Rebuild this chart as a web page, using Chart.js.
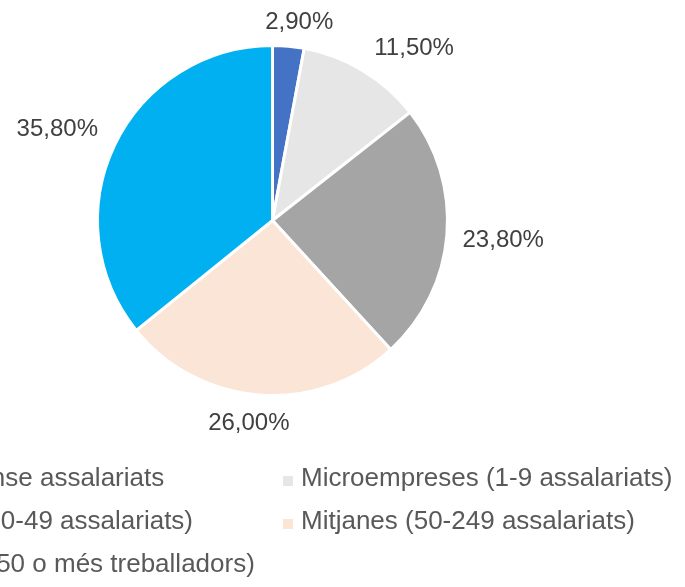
<!DOCTYPE html>
<html lang="ca">
<head>
<meta charset="utf-8">
<title>Empreses per dimensió</title>
<script src="https://cdn.jsdelivr.net/npm/chart.js@4.4.0/dist/chart.umd.min.js"></script>
<style>
    html, body { margin: 0; padding: 0; background: #fff; overflow: hidden; }
    #wrap { position: relative; width: 685px; height: 587px; }
    #pie { position: absolute; left: 0; top: 0; }
    #legend { position: absolute; left: 0; top: 0; width: 685px; height: 587px; pointer-events: none; }
    .legend-item {
        position: absolute;
        white-space: nowrap;
        font: 26px "Liberation Sans", Arial, sans-serif;
        line-height: 30px;
        color: #595959;
    }
    .legend-box {
        position: absolute;
        left: 0;
        top: 14px;
        width: 10px;
        height: 10px;
    }
    .legend-text { position: absolute; left: 18px; top: 0; }
</style>
</head>
<body>
<div id="wrap">
    <canvas id="pie" width="685" height="587"></canvas>
    <div id="legend"></div>
</div>
<script>
// dades
const categories = [
    'Sense assalariats',
    'Microempreses (1-9 assalariats)',
    'Petites (10-49 assalariats)',
    'Mitjanes (50-249 assalariats)',
    'Grans (250 o més treballadors)'
];
const shares = [2.9, 11.5, 23.8, 26.0, 35.8];
const sliceColors = ['#4472C4', '#E7E6E6', '#A5A5A5', '#FBE5D6', '#00B0F0'];

// posició de cada element de llegenda (esquerra del quadre, centre de la línia)
const legendSpots = [
    [-59, 477], [283, 477],
    [-127, 520], [283, 520],
    [-123, 563]
];

const fmtPct = v => v.toFixed(2).replace('.', ',') + '%';

// etiquetes de percentatge fora del pastís
const outsideLabels = {
    id: 'outsideLabels',
    afterDatasetsDraw(chart) {
        const ctx = chart.ctx;
        const meta = chart.getDatasetMeta(0);
        ctx.save();
        ctx.font = '24px "Liberation Sans", Arial, sans-serif';
        ctx.fillStyle = '#404040';
        ctx.textAlign = 'center';
        ctx.textBaseline = 'alphabetic';
        const k = v => Math.sign(v) * Math.min(1, Math.abs(v) * 3);
        meta.data.forEach((arc, i) => {
            const p = arc.getProps(['x', 'y', 'startAngle', 'endAngle', 'outerRadius'], true);
            const mid = (p.startAngle + p.endAngle) / 2;
            const ux = Math.cos(mid), uy = Math.sin(mid);
            const text = fmtPct(shares[i]);
            const w = ctx.measureText(text).width;
            const h = 22;
            const d = p.outerRadius + 15;
            // una mica més d'aire en horitzontal a les diagonals
            const cx = p.x + d * ux + (w / 2 + 8 * Math.abs(ux * uy)) * k(ux);
            const cy = p.y + d * uy + (h / 2) * k(uy);
            ctx.fillText(text, cx, cy + 24 * 0.358);
        });
        ctx.restore();
    }
};

const chart = new Chart(document.getElementById('pie'), {
    type: 'pie',
    data: {
        labels: categories,
        datasets: [{
            data: shares,
            backgroundColor: sliceColors,
            borderColor: '#ffffff',
            borderWidth: 3
        }]
    },
    options: {
        responsive: false,
        animation: false,
        layout: { padding: { left: 96, right: 236, top: 44, bottom: 190 } },
        plugins: {
            legend: { display: false },
            tooltip: { enabled: false }
        }
    },
    plugins: [outsideLabels]
});

// llegenda HTML a partir de les dades del gràfic
const legendEl = document.getElementById('legend');
chart.data.labels.forEach((label, i) => {
    const item = document.createElement('div');
    item.className = 'legend-item';
    item.style.left = legendSpots[i][0] + 'px';
    item.style.top = (legendSpots[i][1] - 15) + 'px';
    item.innerHTML = `
        <span class="legend-box" style="background:${chart.data.datasets[0].backgroundColor[i]}"></span>
        <span class="legend-text">${label}</span>
    `;
    legendEl.appendChild(item);
});
</script>
</body>
</html>
